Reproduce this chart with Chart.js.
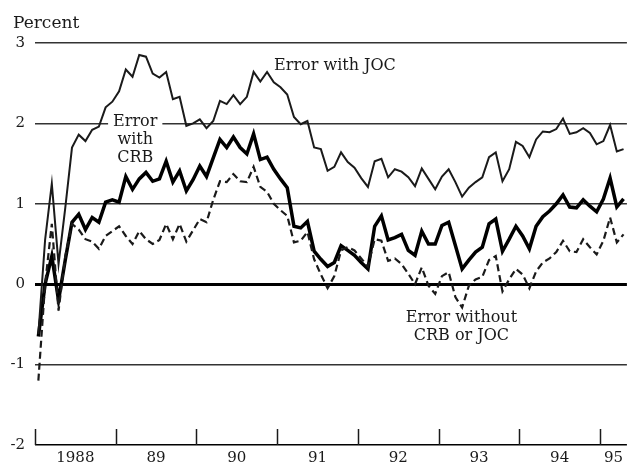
<!DOCTYPE html>
<html>
<head>
<meta charset="utf-8">
<script src="https://cdn.jsdelivr.net/npm/chart.js@4/dist/chart.umd.min.js"></script>
<style>
  html, body { margin: 0; background: #fff; }
</style>
</head>
<body>
<canvas id="chart" width="627" height="468"></canvas>
<script>
// monthly errors, Jan 1988 - Apr 1995 (percent)
const yearLabels = ['1988', '89', '90', '91', '92', '93', '94', '95'];
const monthCount = 88;
const yTicks = [-2, -1, 0, 1, 2, 3];

const errorWithJoc = [
  -0.62, 0.55, 1.25, 0.25, 0.95, 1.70, 1.86, 1.78, 1.92, 1.96, 2.20, 2.27,
  2.40, 2.67, 2.58, 2.85, 2.83, 2.62, 2.57, 2.64, 2.30, 2.33, 1.97, 2.00,
  2.05, 1.94, 2.03, 2.28, 2.24, 2.35, 2.24, 2.33, 2.64, 2.52, 2.64, 2.51,
  2.45, 2.36, 2.08, 1.99, 2.03, 1.70, 1.68, 1.41, 1.46, 1.64, 1.52, 1.45,
  1.32, 1.21, 1.53, 1.56, 1.33, 1.43, 1.40, 1.33, 1.22, 1.44, 1.31, 1.18,
  1.34, 1.43, 1.27, 1.09, 1.20, 1.27, 1.33, 1.58, 1.64, 1.28, 1.43, 1.77,
  1.72, 1.58, 1.80, 1.90, 1.89, 1.93, 2.06, 1.87, 1.89, 1.94, 1.88, 1.74,
  1.78, 1.98, 1.65, 1.68
];

const errorWithCrb = [
  -0.65, 0.00, 0.35, -0.20, 0.30, 0.77, 0.87, 0.68, 0.83, 0.77, 1.02, 1.05,
  1.02, 1.34, 1.18, 1.31, 1.39, 1.28, 1.31, 1.53, 1.27, 1.41, 1.16, 1.30,
  1.47, 1.34, 1.57, 1.80, 1.70, 1.83, 1.70, 1.62, 1.87, 1.55, 1.58, 1.43,
  1.31, 1.20, 0.72, 0.70, 0.78, 0.41, 0.31, 0.22, 0.27, 0.48, 0.42, 0.36,
  0.27, 0.19, 0.72, 0.85, 0.55, 0.58, 0.62, 0.42, 0.36, 0.66, 0.50, 0.50,
  0.73, 0.77, 0.48, 0.19, 0.30, 0.40, 0.46, 0.75, 0.81, 0.41, 0.56, 0.72,
  0.60, 0.44, 0.72, 0.84, 0.91, 1.00, 1.11, 0.96, 0.95, 1.05, 0.97, 0.90,
  1.06, 1.32, 0.96, 1.06
];

const errorWithout = [
  -1.20, 0.00, 0.75, -0.33, 0.35, 0.75, 0.68, 0.56, 0.53, 0.44, 0.60, 0.66,
  0.72, 0.60, 0.50, 0.66, 0.56, 0.50, 0.55, 0.75, 0.56, 0.75, 0.53, 0.67,
  0.81, 0.77, 1.05, 1.28, 1.27, 1.37, 1.28, 1.27, 1.46, 1.21, 1.15, 1.00,
  0.92, 0.85, 0.52, 0.54, 0.65, 0.31, 0.12, -0.05, 0.10, 0.42, 0.46, 0.42,
  0.32, 0.22, 0.56, 0.54, 0.29, 0.32, 0.25, 0.13, 0.00, 0.21, -0.02, -0.12,
  0.10, 0.15, -0.16, -0.29, -0.02, 0.06, 0.09, 0.30, 0.35, -0.09, 0.06, 0.19,
  0.12, -0.05, 0.16, 0.27, 0.32, 0.40, 0.54, 0.41, 0.40, 0.56, 0.46, 0.37,
  0.54, 0.83, 0.52, 0.62
];

const FONT = 'DejaVu Serif';
const INK = '#1a1a1a';

// points sit in the middle of each month
const toPoints = (arr) => arr.map((v, i) => ({ x: i + 0.5, y: v }));

// labels placed in data units
const notes = [
  { lines: ['Error with JOC'], x: 44.6, y: 2.72, box: false },
  { lines: ['Error', 'with', 'CRB'], x: 14.9, y: 2.02, box: true },
  { lines: ['Error without', 'CRB or JOC'], x: 63.4, y: -0.42, box: false }
];

const decorPlugin = {
  id: 'decor',
  beforeDatasetsDraw(chart) {
    const { ctx, scales: { x, y } } = chart;
    ctx.save();
    ctx.strokeStyle = INK;
    ctx.lineWidth = 1.5;
    for (let m = 0; m < monthCount; m += 12) {
      const px = Math.round(x.getPixelForValue(m)) + 0.5;
      ctx.beginPath();
      ctx.moveTo(px, y.bottom);
      ctx.lineTo(px, y.bottom - 16);
      ctx.stroke();
    }
    ctx.restore();
  },
  afterDraw(chart) {
    const { ctx, scales: { x, y } } = chart;
    ctx.save();
    ctx.font = '16px "' + FONT + '"';
    ctx.fillStyle = INK;
    ctx.textAlign = 'center';
    ctx.textBaseline = 'middle';
    notes.forEach((n) => {
      const cx = x.getPixelForValue(n.x);
      const cy = y.getPixelForValue(n.y);
      n.lines.forEach((t, k) => {
        const ly = cy + k * 18;
        if (n.box && k === 0) {
          const w = ctx.measureText(t).width + 10;
          ctx.fillStyle = '#fff';
          ctx.fillRect(cx - w / 2, ly - 8, w, 16);
          ctx.fillStyle = INK;
        }
        ctx.fillText(t, cx, ly);
      });
    });
    ctx.font = '17px "' + FONT + '"';
    ctx.textAlign = 'left';
    ctx.fillText('Percent', 13, 24);
    ctx.restore();
  }
};

new Chart(document.getElementById('chart'), {
  type: 'line',
  data: {
    datasets: [
      {
        label: 'Error without CRB or JOC',
        data: toPoints(errorWithout),
        borderColor: INK,
        borderWidth: 2.2,
        borderDash: [7, 4],
        pointRadius: 0,
        tension: 0
      },
      {
        label: 'Error with JOC',
        data: toPoints(errorWithJoc),
        borderColor: INK,
        borderWidth: 2,
        pointRadius: 0,
        tension: 0
      },
      {
        label: 'Error with CRB',
        data: toPoints(errorWithCrb),
        borderColor: '#000',
        borderWidth: 3.5,
        pointRadius: 0,
        tension: 0
      }
    ]
  },
  options: {
    responsive: false,
    animation: false,
    devicePixelRatio: 1,
    layout: { padding: { top: 43, right: 0, left: 0, bottom: 0 } },
    plugins: { legend: { display: false }, tooltip: { enabled: false } },
    scales: {
      x: {
        type: 'linear',
        min: 0,
        max: monthCount,
        afterBuildTicks: (s) => {
          s.ticks = yearLabels.map((_, k) => ({
            value: (12 * k + Math.min(12 * k + 12, monthCount)) / 2
          }));
        },
        afterFit: (s) => { s.height = 23; },
        border: { display: false },
        grid: { display: false, drawTicks: false },
        ticks: {
          autoSkip: false,
          maxRotation: 0,
          padding: 4,
          color: INK,
          font: { family: FONT, size: 15 },
          callback: (v, i) => yearLabels[i]
        }
      },
      y: {
        min: -2,
        max: 3,
        afterBuildTicks: (s) => { s.ticks = yTicks.map((v) => ({ value: v })); },
        afterFit: (s) => { s.width = 35; },
        border: { display: false },
        grid: {
          drawTicks: false,
          color: (c) => (c.tick.value === 0 || c.tick.value === -2 ? '#000' : '#333'),
          lineWidth: (c) => (c.tick.value === 0 ? 3 : 1.5)
        },
        ticks: {
          padding: 10,
          color: INK,
          font: { family: FONT, size: 15 }
        }
      }
    }
  },
  plugins: [decorPlugin]
});
</script>
</body>
</html>
